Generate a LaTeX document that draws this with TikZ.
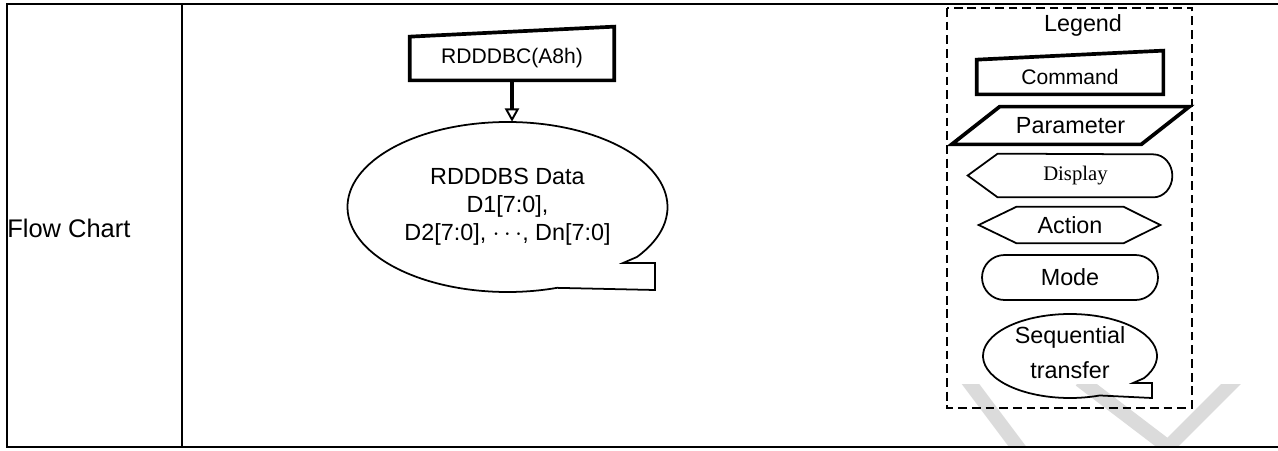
\documentclass[tikz,border=0pt]{standalone}
\usepackage{fontspec}
\setmainfont{Liberation Sans}
\newfontfamily\dispfont{Liberation Serif}
\usetikzlibrary{shapes.geometric,shapes.misc,arrows.meta,positioning,calc}
\tikzset{
  txt/.style    ={inner sep=0pt,align=center,font=\fontsize{13.3}{16}\selectfont},
  cmdtxt/.style ={txt,font=\fontsize{12}{14}\selectfont},
  frm/.style    ={line width=1.5pt},
  bold/.style   ={line width=2.1pt,line join=miter},
  thinl/.style  ={line width=1pt},
  sig/.style    ={line width=2.2pt,-{Triangle[open,length=7.5pt,width=8pt,line width=1.1pt]}},
  legbox/.style ={line width=1.6pt,dash pattern=on 5pt off 2.8pt},
  wmark/.style  ={line width=8pt,draw=black!14},
}

\begin{document}
\begin{tikzpicture}[x=0.02cm,y=-0.02cm]
  \useasboundingbox (0,0) rectangle (1278,450);
  % watermark
  \begin{scope}
    \clip (900,384) rectangle (1278,447);
    \draw[wmark] (960,370) -- (1035,470);
    \draw[wmark] (1080,380) -- (1168,447) -- (1245,370);
  \end{scope}
  % table
  \draw[frm] (1290,4) -- (7,4) -- (7,447) -- (1290,447);
  \draw[frm] (182,4) -- (182,447);
  \node[txt,font=\fontsize{14.5}{17}\selectfont,anchor=west] (head) at (7,228) {Flow Chart};
  % flow chart
  \node[cmdtxt,minimum width=4.08cm,minimum height=0.86cm] (cmd) at (512,58.5) {RDDDBC(A8h)};
  \draw[bold] (cmd.south west) -- (cmd.north west) -- ([yshift=0.2cm]cmd.north east)
    -- (cmd.south east) -- cycle;
  \node[txt,ellipse,minimum width=6.4cm,minimum height=3.4cm,
        font=\fontsize{13.3}{15.9}\selectfont] (data) at (507.5,207)
        {RDDDBS Data\\D1[7:0],\\D2[7:0], $\cdots$, Dn[7:0]};
  \draw[thinl] (data.center) ++(36:160 and 85)
    arc[start angle=36,end angle=-288,x radius=160,y radius=85]
    -- (655,290) -- (655,263) -- (623,263) -- cycle;
  % command -> data
  \draw[sig] (cmd.south) -- (cmd.south |- data.north);
  % legend
  \draw[legbox] (947,8) rectangle (1192,408);
  \node[txt] (leg) at (1083,25) {Legend};
  \node[cmdtxt,minimum width=3.72cm,minimum height=0.68cm] (cmdleg) at (1070,77) {Command};
  \draw[bold] (cmdleg.south west) -- (cmdleg.north west) -- ([yshift=0.18cm]cmdleg.north east)
    -- (cmdleg.south east) -- cycle;
  \node[txt,minimum width=3.78cm,minimum height=0.74cm] (parleg) at (1070.5,125.5) {Parameter};
  \draw[bold] ([xshift=-0.48cm]parleg.south west) -- ([xshift=0.48cm]parleg.north west)
    -- ([xshift=0.48cm]parleg.north east) -- ([xshift=-0.48cm]parleg.south east) -- cycle;
  \node[txt,font=\dispfont\fontsize{11.8}{14}\selectfont,minimum width=3.1cm,
        minimum height=0.86cm] (displeg) at (1075.5,175.5) {Display};
  \draw[thinl] (displeg.south east) arc[start angle=90,end angle=-90,x radius=19,y radius=21.5]
    -- (displeg.north west) -- ([xshift=-0.6cm]displeg.west) -- (displeg.south west) -- cycle;
  \node[txt,minimum width=2.12cm,minimum height=0.72cm] (actleg) at (1070,225) {Action};
  \draw[thinl] (actleg.north west) -- (actleg.north east) -- ([xshift=0.74cm]actleg.east)
    -- (actleg.south east) -- (actleg.south west) -- ([xshift=-0.76cm]actleg.west) -- cycle;
  \node[txt,draw,thinl,rounded rectangle,minimum width=3.52cm,minimum height=0.9cm]
        (modeleg) at (1070,277.5) {Mode};
  \node[txt,ellipse,minimum width=3.48cm,minimum height=1.68cm,
        font=\fontsize{13.3}{19.8}\selectfont] (seqleg) at (1070,353) {Sequential\\transfer};
  \draw[thinl] (1070,356) ++(32:87 and 42)
    arc[start angle=32,end angle=-290,x radius=87,y radius=42]
    -- (1152,398) -- (1152,383) -- (1133,383) -- cycle;
\end{tikzpicture}
\end{document}
